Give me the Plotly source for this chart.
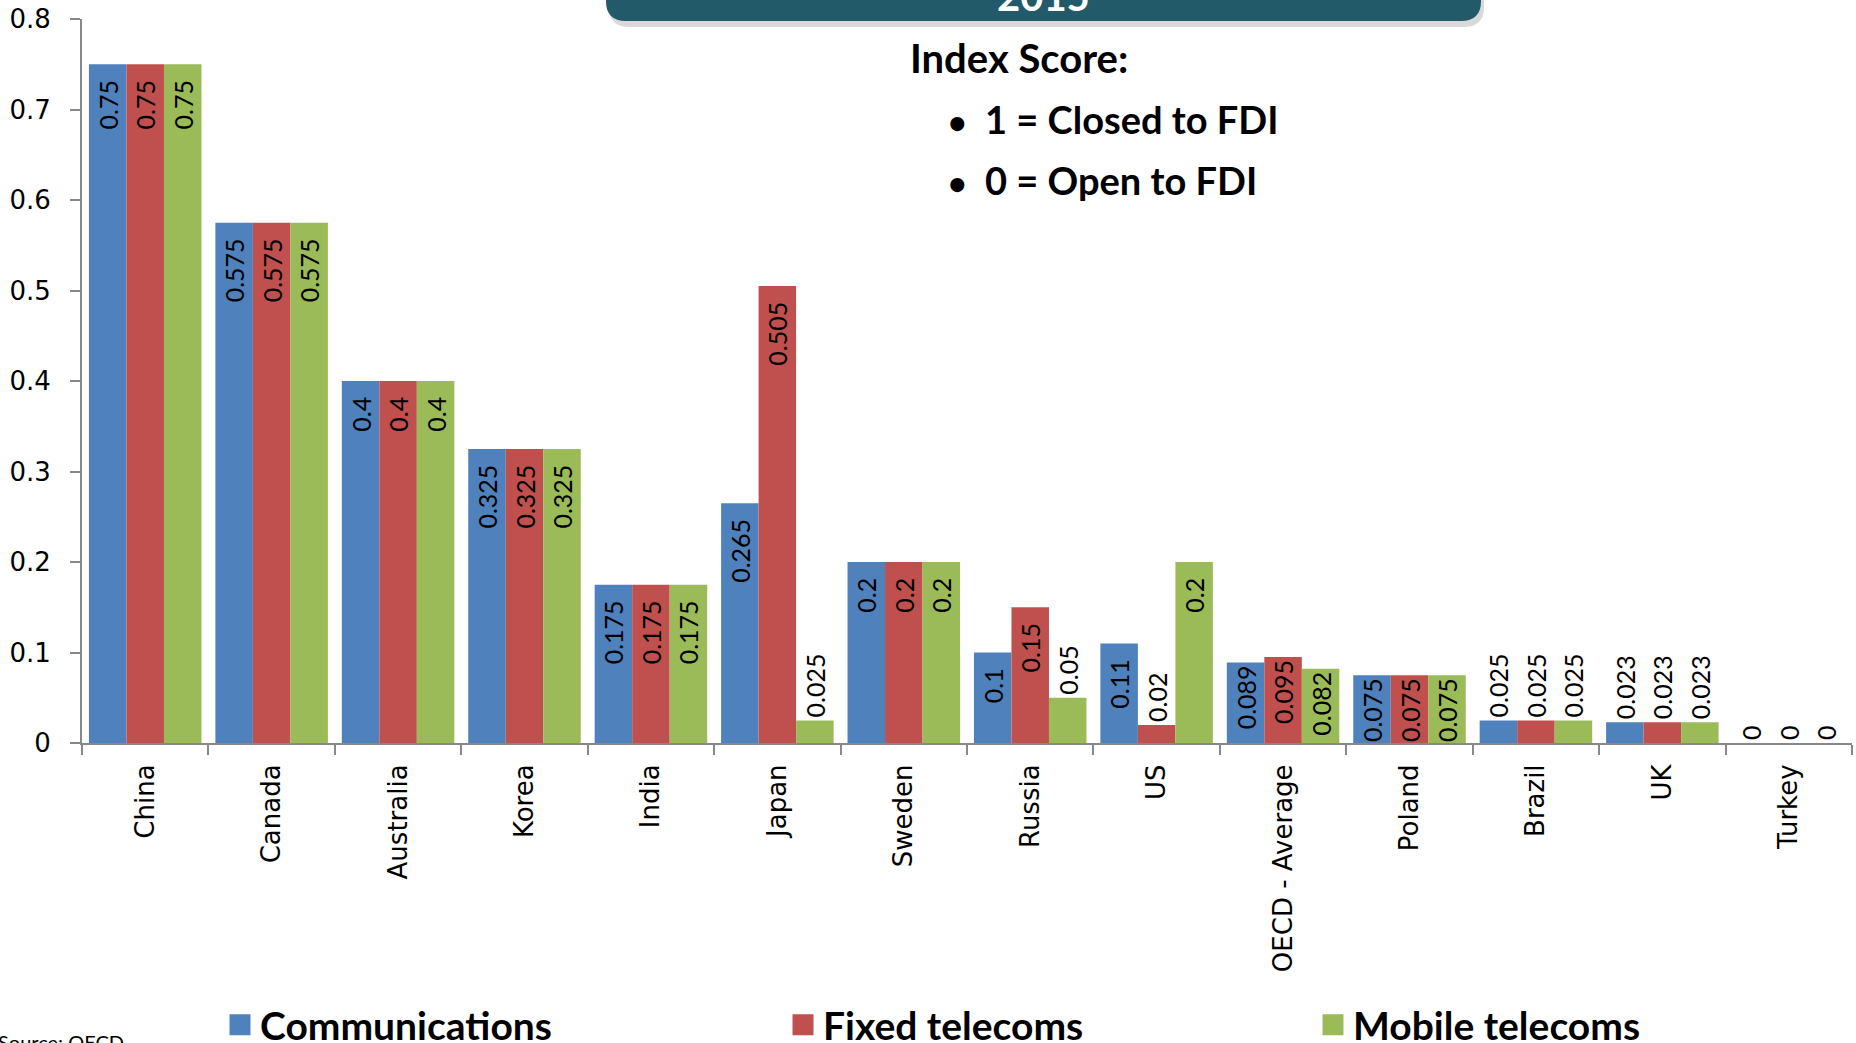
import plotly.graph_objects as go

categories = ["China", "Canada", "Australia", "Korea", "India", "Japan", "Sweden",
              "Russia", "US", "OECD - Average", "Poland", "Brazil", "UK", "Turkey"]
communications = [0.75, 0.575, 0.4, 0.325, 0.175, 0.265, 0.2, 0.1, 0.11, 0.089, 0.075, 0.025, 0.023, 0]
fixed_telecoms = [0.75, 0.575, 0.4, 0.325, 0.175, 0.505, 0.2, 0.15, 0.02, 0.095, 0.075, 0.025, 0.023, 0]
mobile_telecoms = [0.75, 0.575, 0.4, 0.325, 0.175, 0.025, 0.2, 0.05, 0.2, 0.082, 0.075, 0.025, 0.023, 0]
y_ticks = [0, 0.1, 0.2, 0.3, 0.4, 0.5, 0.6, 0.7, 0.8]

series = [
    ("Communications", communications, "#4F81BD"),
    ("Fixed telecoms", fixed_telecoms, "#C0504D"),
    ("Mobile telecoms", mobile_telecoms, "#9BBB59"),
]

W, H = 1856, 1043
ML, MR, MT, MB = 82, 4, 19, 300
PW = W - ML - MR
PH = H - MT - MB


def px_x(px):
    return (px - ML) / PW


def px_y(py):
    return (H - MB - py) / PH


legend_ids = ["legend", "legend2", "legend3"]
legend_left_px = [220, 783, 1313]


def label_text(v):
    if v >= 0.1:
        return f"{v:g}\u00a0\u00a0"
    return f"{v:g}"


fig = go.Figure()
for (name, vals, color), lid in zip(series, legend_ids):
    fig.add_trace(go.Bar(
        x=categories, y=vals, name=name,
        marker=dict(color=color, line=dict(width=0)),
        text=[label_text(v) for v in vals],
        textposition=["inside" if v >= 0.06 else "outside" for v in vals],
        insidetextanchor="end",
        textangle=-90,
        constraintext="none",
        cliponaxis=False,
        textfont=dict(family="Lato, sans-serif", size=25, color="black"),
        showlegend=False,
    ))
    fig.add_trace(go.Scatter(
        x=[None], y=[None], mode="markers", name=name,
        marker=dict(symbol="square", size=24, color=color, line=dict(width=5, color=color)),
        showlegend=True, legend=lid,
    ))

# Banner (title box) at top
bx0, bx1 = px_x(606), px_x(1481)
by0, by1 = px_y(21), px_y(-40)
rx, ry = 20 / PW, 20 / PH


def rounded(x0, x1, y0, y1, dx=0.0, dy=0.0):
    x0 += dx; x1 += dx; y0 += dy; y1 += dy
    return (f"M{x0+rx},{y0} L{x1-rx},{y0} Q{x1},{y0} {x1},{y0+ry} "
            f"L{x1},{y1} L{x0},{y1} L{x0},{y0+ry} Q{x0},{y0} {x0+rx},{y0} Z")


fig.add_shape(type="path", xref="paper", yref="paper",
              path=rounded(bx0, bx1, by0, by1, dx=3 / PW, dy=-6 / PH),
              fillcolor="rgba(0,0,0,0.15)", line=dict(width=0))
fig.add_shape(type="path", xref="paper", yref="paper",
              path=rounded(bx0, bx1, by0, by1),
              fillcolor="#235A69", line=dict(width=0))

fig.add_annotation(text="<b>2015</b>", xref="paper", yref="paper",
                   x=(bx0 + bx1) / 2, y=px_y(22), xanchor="center", yanchor="bottom",
                   showarrow=False, font=dict(family="Lato, sans-serif", size=40, color="white"))

fig.add_annotation(text="<b>Index Score:</b>", xref="paper", yref="paper",
                   x=px_x(908), y=px_y(58), xanchor="left", yanchor="middle",
                   showarrow=False, font=dict(family="Lato, sans-serif", size=40, color="black"))
bullet = '<span style="font-size:32px">•</span>\u00a0\u00a0'
fig.add_annotation(text=f"<b>{bullet}1 = Closed to FDI</b>", xref="paper", yref="paper",
                   x=px_x(946), y=px_y(119), xanchor="left", yanchor="middle",
                   showarrow=False, font=dict(family="Lato, sans-serif", size=38, color="black"))
fig.add_annotation(text=f"<b>{bullet}0 = Open to FDI</b>", xref="paper", yref="paper",
                   x=px_x(946), y=px_y(180), xanchor="left", yanchor="middle",
                   showarrow=False, font=dict(family="Lato, sans-serif", size=38, color="black"))

fig.add_annotation(text="Source: OECD", xref="paper", yref="paper",
                   x=px_x(-4), y=px_y(1028), xanchor="left", yanchor="top",
                   showarrow=False, font=dict(family="Lato, sans-serif", size=20, color="black"))

legend_common = dict(orientation="h", y=px_y(1025), xanchor="left", yanchor="middle",
                     font=dict(family="Lato, sans-serif", size=39, color="black", weight="bold"),
                     itemsizing="trace", bgcolor="rgba(0,0,0,0)")

fig.update_layout(
    width=W, height=H,
    margin=dict(l=ML, r=MR, t=MT, b=MB, autoexpand=False),
    paper_bgcolor="white", plot_bgcolor="white",
    barmode="group", bargap=0.11, bargroupgap=0,
    showlegend=True,
    legend=dict(x=px_x(legend_left_px[0]), **legend_common),
    legend2=dict(x=px_x(legend_left_px[1]), **legend_common),
    legend3=dict(x=px_x(legend_left_px[2]), **legend_common),
    font=dict(family="DejaVu Sans, sans-serif", color="black"),
)
fig.update_xaxes(
    type="category", showline=True, linecolor="#888888", linewidth=2,
    ticks="outside", tickson="boundaries", ticklen=10, tickcolor="#888888", tickwidth=2,
    tickangle=-90, tickfont=dict(family="DejaVu Sans, sans-serif", size=26, color="black"),
    ticklabelstandoff=9, showgrid=False, zeroline=False,
)
fig.update_yaxes(
    range=[0, 0.8], tickvals=y_ticks, ticktext=[f"{v:g}" for v in y_ticks],
    showline=True, linecolor="#888888", linewidth=2,
    ticks="outside", ticklen=10, tickcolor="#888888", tickwidth=2,
    tickfont=dict(family="DejaVu Sans, sans-serif", size=26, color="black"),
    ticklabelstandoff=14, showgrid=False, zeroline=False,
)

fig.write_html("out.html", config={"displayModeBar": False},
               post_script="document.body.style.margin='0';document.body.style.overflow='hidden';")
